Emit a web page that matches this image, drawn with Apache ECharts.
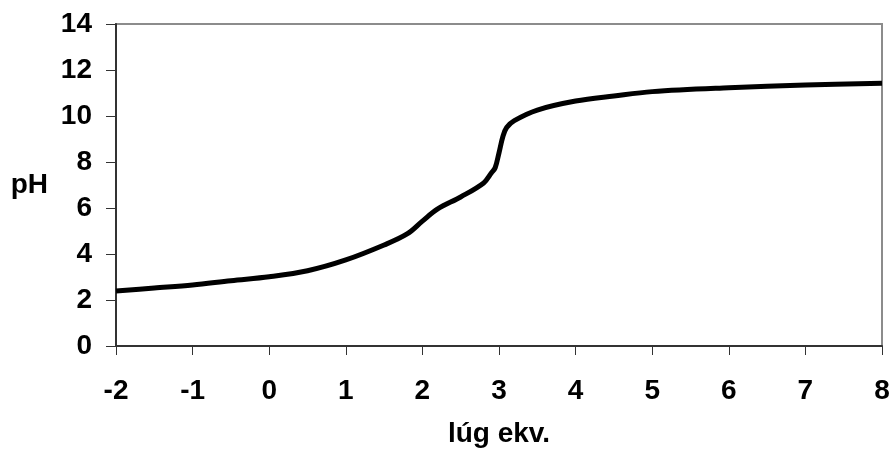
<!DOCTYPE html>
<html>
<head>
<meta charset="utf-8">
<script src="https://cdn.jsdelivr.net/npm/echarts@6/dist/echarts.min.js"></script>
<style>html,body{margin:0;padding:0;background:#fff;}</style>
</head>
<body>
<div id="main" style="width:893px;height:455px;"></div>
<script type="text/javascript">
// lúg ekv. / pH readings
var lugEkv = [-2, -1.5, -1, -0.5, 0, 0.5, 1, 1.5, 1.8, 2, 2.2, 2.5, 2.8, 2.9, 2.95, 3, 3.05, 3.1, 3.2, 3.5, 4, 4.5, 5, 6, 7, 8];
var pH = [2.39, 2.52, 2.65, 2.84, 3.01, 3.27, 3.74, 4.39, 4.87, 5.43, 5.96, 6.48, 7.09, 7.52, 7.75, 8.4, 9.1, 9.5, 9.8, 10.26, 10.65, 10.87, 11.06, 11.23, 11.35, 11.42];

var points = [];
for (var i = 0; i < lugEkv.length; i++) {
	points.push([lugEkv[i], pH[i]]);
}

var chart = echarts.init(document.getElementById('main'), null, { renderer: 'canvas' });
var font = 'Liberation Sans, Arial, sans-serif';

chart.setOption({
	animation: false,
	grid: {
		left: 116, right: 11, top: 24, bottom: 109,
		show: true, borderColor: '#8c8c8c', borderWidth: 2, backgroundColor: '#fff'
	},
	xAxis: {
		type: 'value', min: -2, max: 8, interval: 1,
		name: 'lúg ekv.', nameLocation: 'middle', nameGap: 74,
		nameTextStyle: { fontFamily: font, fontWeight: 'bold', fontSize: 28, color: '#000' },
		axisLine: { onZero: false, lineStyle: { color: '#333', width: 2 } },
		axisTick: { show: true, length: 9, lineStyle: { color: '#333', width: 1 } },
		axisLabel: { fontFamily: font, fontWeight: 'bold', fontSize: 28, color: '#000', margin: 31 },
		splitLine: { show: false }
	},
	yAxis: {
		type: 'value', min: 0, max: 14, interval: 2,
		name: 'pH', nameLocation: 'middle', nameGap: 68, nameRotate: 0,
		nameTextStyle: { fontFamily: font, fontWeight: 'bold', fontSize: 28, color: '#000' },
		axisLine: { show: true, onZero: false, lineStyle: { color: '#333', width: 2 } },
		axisTick: { show: true, length: 10, lineStyle: { color: '#333', width: 1 } },
		axisLabel: { fontFamily: font, fontWeight: 'bold', fontSize: 28, color: '#000', margin: 24 },
		splitLine: { show: false }
	},
	series: [{
		type: 'line',
		data: points,
		smooth: 0.35,
		showSymbol: false,
		lineStyle: { color: '#000', width: 5 }
	}]
});
</script>
</body>
</html>
